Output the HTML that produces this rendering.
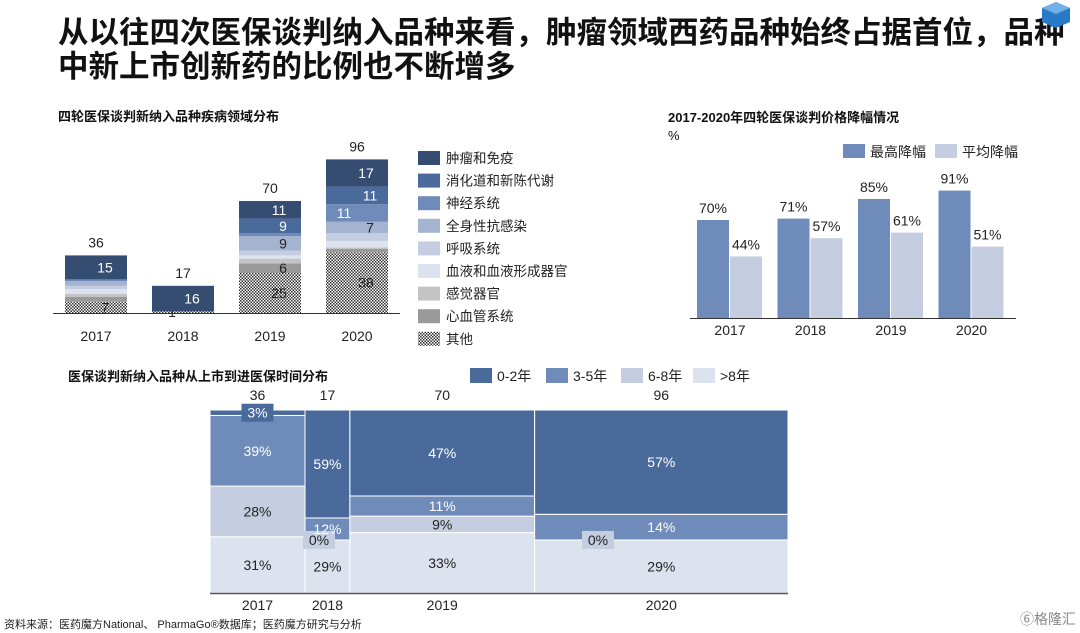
<!DOCTYPE html>
<html><head><meta charset="utf-8">
<style>
body{margin:0;width:1080px;height:633px;background:#fff;overflow:hidden;font-family:"Liberation Sans","Noto Sans CJK SC",sans-serif;}
svg{position:absolute;left:0;top:0}
</style></head><body>
<svg id="s" width="1080" height="633" font-family="Liberation Sans, Noto Sans CJK SC, sans-serif">
<defs>
<pattern id="chk" width="3" height="3" patternUnits="userSpaceOnUse"><rect width="3" height="3" fill="#fff"/><rect width="1.5" height="1.5" fill="#333"/><rect x="1.5" y="1.5" width="1.5" height="1.5" fill="#333"/></pattern>
</defs>
<text x="58" y="43" font-size="30.5" font-weight="bold" fill="#111">从以往四次医保谈判纳入品种来看，肿瘤领域西药品种始终占据首位，品种</text>
<text x="58" y="77" font-size="30.5" font-weight="bold" fill="#111">中新上市创新药的比例也不断增多</text>
<g><polygon points="1042,8 1056,2 1070,8 1070,22 1056,28 1042,22" fill="#2a78c8"/><polygon points="1042,8 1056,14 1070,8 1056,2" fill="#6fb0e8"/></g>
<text x="58" y="121" font-size="13" font-weight="bold" fill="#111">四轮医保谈判新纳入品种疾病领域分布</text>
<text x="668" y="122" font-size="13" font-weight="bold" fill="#111">2017-2020年四轮医保谈判价格降幅情况</text>
<text x="668" y="140" font-size="13" fill="#111">%</text>
<text x="68" y="381" font-size="13" font-weight="bold" fill="#111">医保谈判新纳入品种从上市到进医保时间分布</text>
<text x="4" y="628" font-size="11" fill="#222">资料来源：医药魔方National、 PharmaGo®数据库；医药魔方研究与分析</text>
<text x="1020" y="624" font-size="14" fill="#888">⑥格隆汇</text>
<g id="g1"></g><g id="g2"></g><g id="g3"></g><g id="g3l"></g>
</svg>
<script>
const NS="http://www.w3.org/2000/svg";
function mk(p,t,a,txt){const e=document.createElementNS(NS,t);for(const k in a)e.setAttribute(k,a[k]);if(txt!==undefined)e.textContent=txt;p.appendChild(e);return e;}
// Chart 1: stacked
const years=["2017","2018","2019","2020"];
const cats1=["其他","心血管系统","感觉器官","血液和血液形成器官","呼吸系统","全身性抗感染","神经系统","消化道和新陈代谢","肿瘤和免疫"];
const other=[7,1,25,38],cardio=[3,0,6,2],sense=[2,0,3,1],blood=[3,0,2,4],resp=[2,0,3,5],infect=[3,0,9,7],neuro=[1,0,2,11],digest=[0,0,9,11],onco=[15,16,11,17];
const series1=[other,cardio,sense,blood,resp,infect,neuro,digest,onco];
const cols1=["url(#chk)","#9a9a9a","#c4c4c4","#dde3ee","#c5cee0","#a4b4d0","#6e8bba","#4a6a9c","#364d72"];
const g1=document.getElementById('g1');
const y1=v=>313-v*1.6, x1=i=>65+i*87;
years.forEach((yr,i)=>{let acc=0;series1.forEach((s,k)=>{const v=s[i];if(v>0){const r=mk(g1,'rect',{x:x1(i),y:y1(acc+v),width:62,height:v*1.6,fill:cols1[k]});


if(v*1.6>9||k==0||k==8){const t=mk(g1,'text',{x:x1(i)+(k%2?44:(k==0||k==8?(i==1&&k==0?20:40):18)),y:y1(acc+v/2)+5,'font-size':14,'text-anchor':'middle',fill:(k>=6)?'#fff':'#222'},v);

}}acc+=v;});
const tl=mk(g1,'text',{x:x1(i)+31,y:y1(acc)-8,'font-size':14,'text-anchor':'middle',fill:'#222'},acc);


const xl=mk(g1,'text',{x:x1(i)+31,y:341,'font-size':14,'text-anchor':'middle',fill:'#222'},yr);

});
const ax1=mk(g1,'line',{x1:53,x2:400,y1:313.5,y2:313.5,stroke:'#333'});


const legOrder=[8,7,6,5,4,3,2,1,0];
legOrder.forEach((k,j)=>{const y=151+j*22.6;const r=mk(g1,'rect',{x:418,y:y,width:22,height:14,fill:cols1[k]});


const t=mk(g1,'text',{x:446,y:y+12,'font-size':13.5,fill:'#222'},cats1[k]);

});
// Chart 2: grouped
const maxCut=[70,71,85,91],avgCut=[44,57,61,51];
const g2=document.getElementById('g2');
const y2=v=>318-v*1.4,x2=i=>697+i*80.5;
years.forEach((yr,i)=>{[[maxCut,'#6e8bba',0],[avgCut,'#c5cee0',33]].forEach(([arr,c,o])=>{const v=arr[i];
const r=mk(g2,'rect',{x:x2(i)+o,y:y2(v),width:32,height:v*1.4,fill:c});


const t=mk(g2,'text',{x:x2(i)+o+16,y:y2(v)-7,'font-size':14,'text-anchor':'middle',fill:'#222'},v+'%');

});
const xl=mk(g2,'text',{x:x2(i)+33,y:335,'font-size':14,'text-anchor':'middle',fill:'#222'},yr);

});
const ax2=mk(g2,'line',{x1:690,x2:1016,y1:318.5,y2:318.5,stroke:'#333'});


[['最高降幅','#6e8bba',843],['平均降幅','#c5cee0',935]].forEach(([n,c,x])=>{const r=mk(g2,'rect',{x:x,y:144,width:22,height:14,fill:c});


const t=mk(g2,'text',{x:x+27,y:157,'font-size':14,fill:'#222'},n);

});
// Chart 3: mekko
const counts=[36,17,70,96];
const p02=[3,59,47,57],p35=[39,12,11,14],p68=[28,0,9,0],p8=[31,29,33,29];
const series3=[p8,p68,p35,p02];
const cols3=["#dde3ee","#c5cee0","#6e8bba","#4a6a9c"];
const g3=document.getElementById('g3');
const g3l=document.getElementById('g3l');
const total=counts.reduce((a,b)=>a+b,0);
const W=578,X0=210,Y0=593,H=183;
let cx=X0;
years.forEach((yr,i)=>{const w=counts[i]/total*W;const sum=series3.reduce((a,s)=>a+s[i],0);let acc=0;
series3.forEach((s,k)=>{const v=s[i];const h=v/sum*H;const y=Y0-acc-h;
const r=mk(g3,'rect',{x:cx,y:y,width:w,height:h,fill:cols3[k],stroke:'#fff','stroke-width':1});


let lx=cx+w/2;
if(h<16){if(v==0)lx=cx+(i==1?14:w/4);
const b=mk(g3l,'rect',{x:lx-16,y:y+h/2-9,width:32,height:18,fill:cols3[k]});

}
const t=mk(g3l,'text',{x:lx,y:y+h/2+5,'font-size':14,'text-anchor':'middle',fill:k>=2?'#fff':'#222'},v+'%');


acc+=h;});
const tl=mk(g3,'text',{x:cx+w/2,y:400,'font-size':14,'text-anchor':'middle',fill:'#222'},counts[i]);


const xl=mk(g3,'text',{x:cx+w/2,y:610,'font-size':14,'text-anchor':'middle',fill:'#222'},yr);


cx+=w;});
const ax3=mk(g3,'line',{x1:210,x2:788,y1:593.5,y2:593.5,stroke:'#555','stroke-width':1.5});


[['0-2年',3,470],['3-5年',2,546],['6-8年',1,621],['>8年',0,693]].forEach(([n,k,x])=>{const r=mk(g3,'rect',{x:x,y:368,width:22,height:15,fill:cols3[k]});


const t=mk(g3,'text',{x:x+27,y:381,'font-size':14,fill:'#222'},n);

});
</script>
</body></html>
